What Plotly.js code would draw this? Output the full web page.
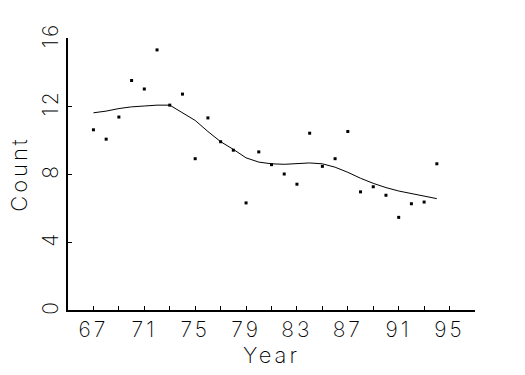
<!DOCTYPE html>
<html>
<head>
<meta charset="utf-8">
<script src="https://cdn.plot.ly/plotly-3.0.1.min.js"></script>
<style>
html,body{margin:0;padding:0;background:#fff;}
#chart{width:525px;height:375px;}
#chart .xtick text, #chart .ytick text, #chart .xtitle, #chart .ytitle{letter-spacing:3px;}
</style>
</head>
<body>
<div id="chart"></div>
<script>
// Observed yearly counts
const years = [67,68,69,70,71,72,73,74,75,76,77,78,79,80,81,82,83,84,85,86,87,88,89,90,91,92,93,94];
const counts = [10.6,10.05,11.35,13.5,13.0,15.3,12.05,12.7,8.9,11.3,9.9,9.4,6.3,9.3,8.55,8.0,7.4,10.4,8.45,8.9,10.5,6.95,7.25,6.75,5.45,6.25,6.35,8.6];
// Smoothed curve
const smoothYears = [67,68,69,70,71,72,73,74,75,76,77,78,79,80,81,82,83,84,85,86,87,88,89,90,91,92,93,94];
const smoothCounts = [11.6,11.7,11.85,11.95,12.0,12.05,12.05,11.6,11.15,10.5,9.9,9.45,8.95,8.7,8.6,8.57,8.62,8.65,8.6,8.4,8.1,7.75,7.45,7.2,7.0,6.85,6.7,6.55];
// Axis ticks
const xTickVals = [65,67,69,71,73,75,77,79,81,83,85,87,89,91,93,95,97];
const xTickText = ['','67','','71','','75','','79','','83','','87','','91','','95',''];
const yTickVals = [0,4,8,12,16];
const yTickText = ['0','4','8','12','16'];

const fontFam = 'Inter, DejaVu Sans, sans-serif';
const fw = 250;
const traces = [
  {x: years, y: counts, type: 'scatter', mode: 'markers',
   marker: {symbol: 'square', size: 3, color: '#000'}, hoverinfo: 'skip'},
  {x: smoothYears, y: smoothCounts, type: 'scatter', mode: 'lines',
   line: {color: '#000', width: 1}, hoverinfo: 'skip'}
];
const layout = {
  width: 525, height: 375,
  margin: {l: 68, r: 50, t: 38, b: 65},
  paper_bgcolor: '#fff', plot_bgcolor: '#fff',
  showlegend: false,
  font: {family: fontFam, color: '#000', size: 20, weight: fw},
  xaxis: {
    range: [65, 97], tickmode: 'array', tickvals: xTickVals, ticktext: xTickText,
    ticks: 'inside', ticklen: 4, tickwidth: 1, tickcolor: '#000',
    showline: true, linewidth: 2, linecolor: '#000', mirror: false,
    showgrid: false, zeroline: false,
    tickfont: {family: fontFam, size: 21, color: '#000', weight: fw},
    title: {text: 'Year', font: {family: fontFam, size: 22, color: '#000', weight: fw}, standoff: 4},
    automargin: false
  },
  yaxis: {
    range: [0, 16], tickmode: 'array', tickvals: yTickVals, ticktext: yTickText,
    tickangle: -90,
    ticks: 'inside', ticklen: 4, tickwidth: 1, tickcolor: '#000',
    showline: true, linewidth: 2, linecolor: '#000',
    showgrid: false, zeroline: false,
    tickfont: {family: fontFam, size: 21, color: '#000', weight: fw},
    title: {text: 'Count', font: {family: fontFam, size: 22, color: '#000', weight: fw}, standoff: 4},
    automargin: false
  }
};
Plotly.newPlot('chart', traces, layout, {staticPlot: true, displayModeBar: false});
</script>
</body>
</html>
